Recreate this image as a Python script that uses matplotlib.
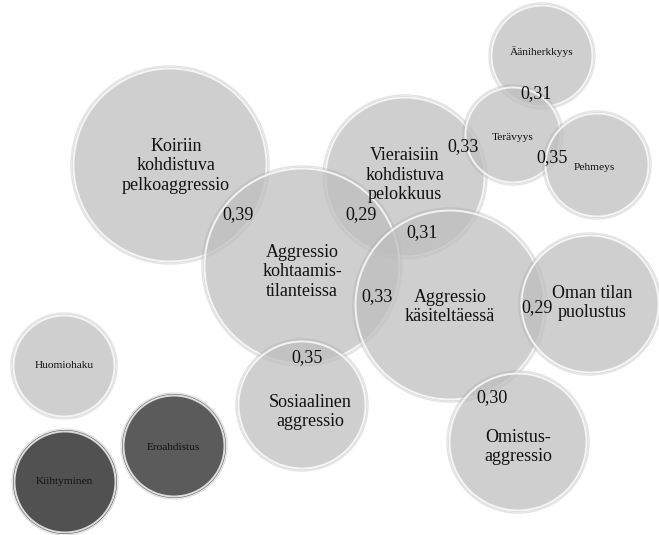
import matplotlib
matplotlib.use("Agg")
import matplotlib.pyplot as plt
from matplotlib.patches import Circle

# ---- data ----
traits = ["Koiriin\nkohdistuva\npelkoaggressio", "Vieraisiin\nkohdistuva\npelokkuus",
          "Aggressio\nkohtaamis-\ntilanteissa", "Aggressio\nkäsiteltäessä",
          "Oman tilan\npuolustus", "Sosiaalinen\naggressio", "Omistus-\naggressio",
          "Ääniherkkyys", "Terävyys", "Pehmeys", "Huomiohaku", "Kiihtyminen", "Eroahdistus"]
correlations = ["0,39", "0,29", "0,33", "0,31", "0,31", "0,35", "0,33", "0,29", "0,35", "0,30"]

# ---- layout (pixel coordinates) ----
cx = [170, 405, 302, 450, 590, 302, 518, 542, 513, 597, 64, 65, 174]
cy = [165, 177, 266, 305, 304, 405, 442, 56, 135, 165, 366, 482, 446]
rad = [98, 81, 99, 96, 70, 65, 70, 52, 49, 53, 52, 52, 52]
tx = [176, 405, 302, 450, 592, 310, 518, 542, 513, 594, 64, 64, 173]
ty = [166, 175, 272, 307, 303, 412, 447, 52, 138, 168, 365, 482, 447]
big = [True] * 7 + [False] * 6
face = ["#bdbdbd"] * 11 + ["#474747", "#525252"]
alpha = [0.72] * 11 + [0.95, 0.95]
lx = [238, 361, 463, 422, 536, 552, 377, 537, 307, 492]
ly = [215, 215, 147, 233, 94, 158, 297, 308, 358, 398]

W, H = 659, 535
fig = plt.figure(figsize=(W / 100, H / 100), dpi=100)
ax = fig.add_axes([0, 0, 1, 1])
ax.set_xlim(0, W)
ax.set_ylim(H, 0)
ax.set_aspect("equal")
ax.axis("off")

serif = ["Liberation Serif", "DejaVu Serif"]

for i in range(len(traits)):
    # soft outer shadow ring
    ax.add_patch(Circle((cx[i], cy[i]), rad[i] + 1, facecolor="none",
                        edgecolor="#a0a0a0", lw=1.0, alpha=0.3, zorder=i * 2))
    ax.add_patch(Circle((cx[i], cy[i]), rad[i], facecolor=face[i], alpha=alpha[i],
                        edgecolor="none", zorder=i * 2))
    ax.add_patch(Circle((cx[i], cy[i]), rad[i] - 1.5, facecolor="none",
                        edgecolor="white", lw=1.4, alpha=0.8, zorder=i * 2 + 1))

for i, t in enumerate(traits):
    ax.text(tx[i], ty[i], t, ha="center", va="center", family=serif,
            fontsize=13 if big[i] else 8.2, color="#111111",
            linespacing=1.2, zorder=50)

for x, y, c in zip(lx, ly, correlations):
    ax.text(x, y, c, ha="center", va="center", family=serif, fontsize=13,
            color="#111111", zorder=51)

fig.savefig("out.png", dpi=100)
